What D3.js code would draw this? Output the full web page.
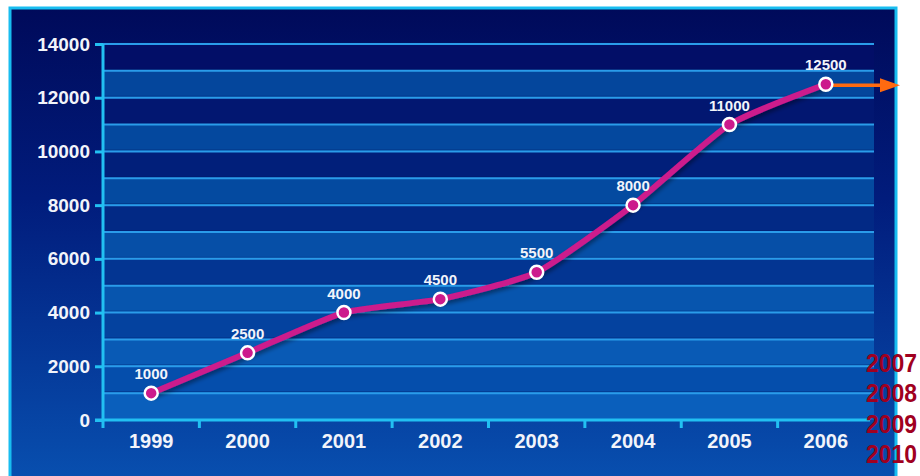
<!DOCTYPE html>
<html>
<head>
<meta charset="utf-8">
<script src="https://cdn.jsdelivr.net/npm/d3@7"></script>
<style>
  html, body { margin: 0; padding: 0; background: #ffffff; }
  svg { display: block; }
</style>
</head>
<body>
<svg id="chart" width="920" height="476"></svg>
<script>
// Yearly values
const years = ["1999", "2000", "2001", "2002", "2003", "2004", "2005", "2006"];
const values = [1000, 2500, 4000, 4500, 5500, 8000, 11000, 12500];
const yTicks = [0, 2000, 4000, 6000, 8000, 10000, 12000, 14000];
const gridValues = [1000, 2000, 3000, 4000, 5000, 6000, 7000, 8000, 9000, 10000, 11000, 12000, 13000, 14000];
const futureYears = ["2007", "2008", "2009", "2010"];

const svg = d3.select("#chart");
const W = 920, H = 476;
const plot = { left: 103, right: 874, top: 44, bottom: 420 };

const defs = svg.append("defs");
const bg = defs.append("linearGradient").attr("id", "bg").attr("x1", 0).attr("y1", 0).attr("x2", 0).attr("y2", 1);
bg.append("stop").attr("offset", "0%").attr("stop-color", "#000a5a");
bg.append("stop").attr("offset", "40%").attr("stop-color", "#011c7c");
bg.append("stop").attr("offset", "100%").attr("stop-color", "#0850b0");

const shadow = defs.append("filter").attr("id", "shadow").attr("x", "-10%").attr("y", "-10%").attr("width", "120%").attr("height", "130%");
shadow.append("feGaussianBlur").attr("in", "SourceAlpha").attr("stdDeviation", 2);
shadow.append("feOffset").attr("dx", 1).attr("dy", 3).attr("result", "b");
shadow.append("feComponentTransfer").append("feFuncA").attr("type", "linear").attr("slope", 0.4);
const merge = shadow.append("feMerge");
merge.append("feMergeNode");
merge.append("feMergeNode").attr("in", "SourceGraphic");

// Frame
svg.append("rect")
  .attr("x", 10).attr("y", 8).attr("width", 886).attr("height", H)
  .attr("fill", "url(#bg)")
  .attr("stroke", "#18bdf0").attr("stroke-width", 3);

const x = d3.scaleBand().domain(years).range([plot.left, plot.right]);
const y = d3.scaleLinear().domain([0, 14000]).range([plot.bottom, plot.top]);

// Alternating horizontal bands, brightening toward the bottom
const darkBand = d3.scaleLinear().domain([14000, 8000, 0]).range(["#020a62", "#01237f", "#0654b2"]);
const lightBand = d3.scaleLinear().domain([14000, 8000, 0]).range(["#04449a", "#044aa0", "#0a5fbc"]);
const bands = d3.range(0, 14000, 1000);
svg.append("g").selectAll("rect").data(bands).join("rect")
  .attr("x", plot.left)
  .attr("width", plot.right - plot.left)
  .attr("y", d => y(d + 1000))
  .attr("height", d => y(d) - y(d + 1000))
  .attr("fill", d => (d / 1000) % 2 === 0 ? lightBand(d) : darkBand(d));

// Grid lines (with a faint dark edge above)
svg.append("g").selectAll("line").data(gridValues).join("line")
  .attr("x1", plot.left).attr("x2", plot.right)
  .attr("y1", d => y(d) - 1.5).attr("y2", d => y(d) - 1.5)
  .attr("stroke", "#001a60").attr("stroke-opacity", 0.35).attr("stroke-width", 1);
svg.append("g").selectAll("line").data(gridValues).join("line")
  .attr("x1", plot.left).attr("x2", plot.right)
  .attr("y1", d => y(d)).attr("y2", d => y(d))
  .attr("stroke", "#2a9cea").attr("stroke-width", 2);

// Y axis
const yAxis = svg.append("g")
  .attr("transform", `translate(${plot.left},0)`)
  .call(d3.axisLeft(y).tickValues(yTicks).tickSize(8).tickPadding(5).tickFormat(d3.format("d")));
yAxis.select(".domain").attr("stroke", "#22c0f2").attr("stroke-width", 3).attr("d", `M0,${plot.top}V${plot.bottom}`);
yAxis.selectAll(".tick line").attr("stroke", "#22c0f2").attr("stroke-width", 3);
yAxis.selectAll(".tick text")
  .attr("fill", "#f2f4fa")
  .style("font-family", "Liberation Sans, Arial, sans-serif")
  .style("font-weight", "bold")
  .style("font-size", "19px");

// X axis with ticks between categories
const xAxis = svg.append("g").attr("transform", `translate(0,${plot.bottom})`);
xAxis.append("line")
  .attr("x1", plot.left - 8).attr("x2", plot.right - 4)
  .attr("stroke", "#22c0f2").attr("stroke-width", 3);
xAxis.selectAll("line.tk").data(years.slice(1)).join("line")
  .attr("class", "tk")
  .attr("x1", d => x(d)).attr("x2", d => x(d))
  .attr("y1", 0).attr("y2", 8)
  .attr("stroke", "#22c0f2").attr("stroke-width", 3);
xAxis.append("line")
  .attr("x1", plot.left).attr("x2", plot.left).attr("y1", 0).attr("y2", 8)
  .attr("stroke", "#22c0f2").attr("stroke-width", 3);
xAxis.selectAll("text").data(years).join("text")
  .attr("x", d => x(d) + x.bandwidth() / 2)
  .attr("y", 28)
  .attr("text-anchor", "middle")
  .attr("fill", "#f2f4fa")
  .style("font-family", "Liberation Sans, Arial, sans-serif")
  .style("font-weight", "bold")
  .style("font-size", "20px")
  .text(d => d);

// Line
const pts = years.map((yr, i) => ({ yr, v: values[i] }));
const line = d3.line()
  .x(d => x(d.yr) + x.bandwidth() / 2)
  .y(d => y(d.v))
  .curve(d3.curveCardinal.tension(0.45));

svg.append("path")
  .datum(pts)
  .attr("d", line)
  .attr("fill", "none")
  .attr("stroke", "#cc1a8c")
  .attr("stroke-width", 6)
  .attr("stroke-linejoin", "round")
  .attr("filter", "url(#shadow)");

// Orange arrow leading from the last point
const last = pts[pts.length - 1];
const ax = x(last.yr) + x.bandwidth() / 2;
const ay = y(last.v) + 1;
svg.append("line")
  .attr("x1", ax).attr("x2", 884)
  .attr("y1", ay).attr("y2", ay)
  .attr("stroke", "#ff6a10").attr("stroke-width", 3.5);
svg.append("path")
  .attr("d", `M880,${ay - 7}L900,${ay}L880,${ay + 7}Z`)
  .attr("fill", "#ff6a10");

// Points
svg.append("g").selectAll("circle").data(pts).join("circle")
  .attr("cx", d => x(d.yr) + x.bandwidth() / 2)
  .attr("cy", d => y(d.v))
  .attr("r", 6.5)
  .attr("fill", "#cc1a8c")
  .attr("stroke", "#ffffff")
  .attr("stroke-width", 2.5);

// Value labels
svg.append("g").selectAll("text").data(pts).join("text")
  .attr("x", d => x(d.yr) + x.bandwidth() / 2)
  .attr("y", d => y(d.v) - 14)
  .attr("text-anchor", "middle")
  .attr("fill", "#f2f4fa")
  .style("font-family", "Liberation Sans, Arial, sans-serif")
  .style("font-weight", "bold")
  .style("font-size", "15px")
  .text(d => d.v);

// Upcoming years list
svg.append("g").selectAll("text").data(futureYears).join("text")
  .attr("x", 866)
  .attr("y", (d, i) => 372 + i * 30.3)
  .attr("fill", "#a00020")
  .attr("textLength", 51)
  .attr("lengthAdjust", "spacingAndGlyphs")
  .style("font-family", "Liberation Sans, Arial, sans-serif")
  .style("font-weight", "bold")
  .style("font-size", "26px")
  .text(d => d);
</script>
</body>
</html>
